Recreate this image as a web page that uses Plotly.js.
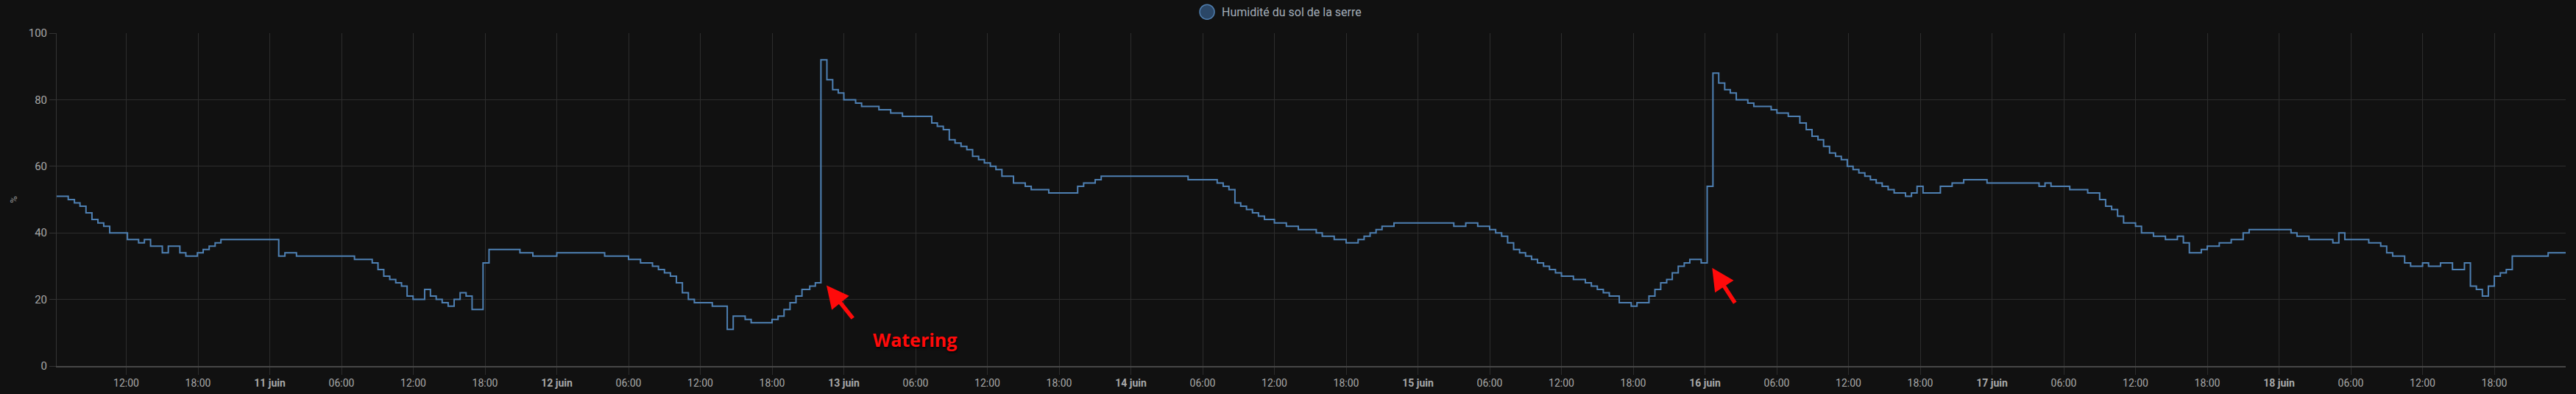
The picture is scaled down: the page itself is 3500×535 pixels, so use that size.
<!DOCTYPE html>
<html>
<head>
<meta charset="utf-8">
<script src="https://cdn.plot.ly/plotly-3.0.1.min.js"></script>
<style>
html,body{margin:0;padding:0;background:#111111;}
#chart{width:3500px;height:535px;}
</style>
</head>
<body>
<div id="chart"></div>
<script>
// ---- Data: change points of the stepped soil-humidity series ----
const seriesName = "Humidité du sol de la serre";
const times = [
"2023-06-10 06:00","2023-06-10 07:09","2023-06-10 07:40","2023-06-10 08:08","2023-06-10 08:38","2023-06-10 09:08",
"2023-06-10 09:38","2023-06-10 10:07","2023-06-10 10:37","2023-06-10 12:06","2023-06-10 13:02","2023-06-10 13:31",
"2023-06-10 14:02","2023-06-10 15:01","2023-06-10 15:31","2023-06-10 16:29","2023-06-10 16:59","2023-06-10 17:57",
"2023-06-10 18:26","2023-06-10 18:56","2023-06-10 19:26","2023-06-10 19:55",
"2023-06-11 00:45","2023-06-11 01:16","2023-06-11 02:14","2023-06-11 07:05","2023-06-11 08:34","2023-06-11 09:03",
"2023-06-11 09:32","2023-06-11 10:02","2023-06-11 10:32","2023-06-11 11:01","2023-06-11 11:29","2023-06-11 11:59",
"2023-06-11 12:57","2023-06-11 13:26","2023-06-11 13:55","2023-06-11 14:25","2023-06-11 14:55","2023-06-11 15:25",
"2023-06-11 15:55","2023-06-11 16:25","2023-06-11 16:55","2023-06-11 17:50","2023-06-11 18:20",
"2023-06-11 20:55","2023-06-11 22:00",
"2023-06-12 00:00","2023-06-12 04:00","2023-06-12 06:00","2023-06-12 07:00","2023-06-12 08:00","2023-06-12 08:30",
"2023-06-12 09:00","2023-06-12 09:30","2023-06-12 10:00","2023-06-12 10:30","2023-06-12 11:00","2023-06-12 11:30",
"2023-06-12 13:00","2023-06-12 14:15","2023-06-12 14:45","2023-06-12 15:45","2023-06-12 16:15","2023-06-12 18:00",
"2023-06-12 18:30","2023-06-12 19:00","2023-06-12 19:30","2023-06-12 20:00","2023-06-12 20:30","2023-06-12 21:09",
"2023-06-12 21:37","2023-06-12 22:05","2023-06-12 22:35","2023-06-12 23:04","2023-06-12 23:32",
"2023-06-13 00:00","2023-06-13 00:59","2023-06-13 01:29","2023-06-13 02:56","2023-06-13 03:55","2023-06-13 04:54",
"2023-06-13 07:21","2023-06-13 07:49","2023-06-13 08:19","2023-06-13 08:49","2023-06-13 09:18","2023-06-13 09:48",
"2023-06-13 10:17","2023-06-13 10:46","2023-06-13 11:16","2023-06-13 11:45","2023-06-13 12:15","2023-06-13 12:43",
"2023-06-13 13:13","2023-06-13 14:11","2023-06-13 15:10","2023-06-13 15:40","2023-06-13 17:08","2023-06-13 19:33",
"2023-06-13 20:03","2023-06-13 21:01","2023-06-13 21:31",
"2023-06-14 04:47","2023-06-14 07:13","2023-06-14 07:43","2023-06-14 08:12","2023-06-14 08:42","2023-06-14 09:11",
"2023-06-14 09:40","2023-06-14 10:10","2023-06-14 10:40","2023-06-14 11:10","2023-06-14 12:00","2023-06-14 13:00",
"2023-06-14 14:00","2023-06-14 15:30","2023-06-14 16:00","2023-06-14 17:00","2023-06-14 18:00","2023-06-14 19:00",
"2023-06-14 19:30","2023-06-14 20:00","2023-06-14 20:30","2023-06-14 21:00","2023-06-14 22:00",
"2023-06-15 03:00","2023-06-15 04:00","2023-06-15 05:00","2023-06-15 06:00","2023-06-15 06:30","2023-06-15 07:00",
"2023-06-15 07:30","2023-06-15 08:00","2023-06-15 08:30","2023-06-15 09:00","2023-06-15 09:30","2023-06-15 10:00",
"2023-06-15 10:30","2023-06-15 11:00","2023-06-15 11:30","2023-06-15 12:00","2023-06-15 13:00","2023-06-15 14:00",
"2023-06-15 14:30","2023-06-15 15:00","2023-06-15 15:30","2023-06-15 16:00","2023-06-15 16:50","2023-06-15 17:50",
"2023-06-15 18:19","2023-06-15 19:19","2023-06-15 19:49","2023-06-15 20:18","2023-06-15 20:48","2023-06-15 21:16",
"2023-06-15 21:46","2023-06-15 22:16","2023-06-15 22:44","2023-06-15 23:41",
"2023-06-16 00:11","2023-06-16 00:40","2023-06-16 01:09","2023-06-16 01:39","2023-06-16 02:07","2023-06-16 02:37",
"2023-06-16 03:35","2023-06-16 04:05","2023-06-16 05:32","2023-06-16 06:01","2023-06-16 06:58","2023-06-16 07:56",
"2023-06-16 08:28","2023-06-16 08:57","2023-06-16 09:27","2023-06-16 09:55","2023-06-16 10:25","2023-06-16 10:55",
"2023-06-16 11:24","2023-06-16 11:54","2023-06-16 12:23","2023-06-16 12:52","2023-06-16 13:22","2023-06-16 13:50",
"2023-06-16 14:19","2023-06-16 14:49","2023-06-16 15:19","2023-06-16 15:49","2023-06-16 16:46","2023-06-16 17:16",
"2023-06-16 17:44","2023-06-16 18:14","2023-06-16 19:41","2023-06-16 20:40","2023-06-16 21:38","2023-06-16 23:35",
"2023-06-17 03:56","2023-06-17 04:26","2023-06-17 04:56","2023-06-17 06:30","2023-06-17 08:00","2023-06-17 09:00",
"2023-06-17 09:30","2023-06-17 10:00","2023-06-17 10:30","2023-06-17 11:00","2023-06-17 12:00","2023-06-17 12:30",
"2023-06-17 13:30","2023-06-17 14:30","2023-06-17 15:30","2023-06-17 16:00","2023-06-17 16:30","2023-06-17 17:30",
"2023-06-17 18:00","2023-06-17 19:00","2023-06-17 20:00","2023-06-17 21:00","2023-06-17 21:30",
"2023-06-18 01:00","2023-06-18 01:30","2023-06-18 02:30","2023-06-18 04:30","2023-06-18 05:00","2023-06-18 05:30",
"2023-06-18 07:30","2023-06-18 08:30","2023-06-18 09:00","2023-06-18 09:30","2023-06-18 10:30","2023-06-18 11:00",
"2023-06-18 12:00","2023-06-18 12:30","2023-06-18 13:30","2023-06-18 14:30","2023-06-18 15:30","2023-06-18 16:00",
"2023-06-18 16:30","2023-06-18 17:00","2023-06-18 17:30","2023-06-18 18:00","2023-06-18 18:30","2023-06-18 19:00",
"2023-06-18 19:30","2023-06-18 22:30","2023-06-19 00:00"
];
const humidity = [
51,50,49,48,46,44,
43,42,40,38,37,38,
36,34,36,34,33,34,
35,36,37,38,
33,34,33,32,31,29,
27,26,25,24,21,20,
23,21,20,19,18,20,
22,21,17,31,35,
34,33,
34,33,32,31,30,29,
28,27,25,22,20,19,
18,11,15,14,13,14,
15,17,19,21,23,24,
25,92,86,83,82,
80,79,78,77,76,75,
73,72,71,68,67,66,
65,63,62,61,60,59,
57,55,54,53,52,54,
55,56,57,
56,55,54,53,49,48,
47,46,45,44,43,42,
41,40,39,38,37,38,
39,40,41,42,43,
42,43,42,41,40,39,
37,35,34,33,32,31,
30,29,28,27,26,25,
24,23,22,21,19,18,
19,21,23,25,26,28,
30,31,32,31,
54,88,85,83,82,80,
79,78,77,76,75,73,
71,69,68,66,64,63,
62,60,59,58,57,56,
55,54,53,52,51,52,
54,52,54,55,56,55,
54,55,54,53,52,50,
48,47,45,43,42,40,
39,38,39,37,34,35,
36,37,38,40,41,
40,39,38,37,40,38,
37,36,34,33,31,30,
31,30,31,29,31,24,
23,21,24,27,28,29,
33,34,34
];

// ---- Axis ticks ----
const xRange = ["2023-06-10 06:11","2023-06-18 23:58"];
const tickVals = [
"2023-06-10 12:00","2023-06-10 18:00","2023-06-11 00:00","2023-06-11 06:00","2023-06-11 12:00","2023-06-11 18:00",
"2023-06-12 00:00","2023-06-12 06:00","2023-06-12 12:00","2023-06-12 18:00","2023-06-13 00:00","2023-06-13 06:00",
"2023-06-13 12:00","2023-06-13 18:00","2023-06-14 00:00","2023-06-14 06:00","2023-06-14 12:00","2023-06-14 18:00",
"2023-06-15 00:00","2023-06-15 06:00","2023-06-15 12:00","2023-06-15 18:00","2023-06-16 00:00","2023-06-16 06:00",
"2023-06-16 12:00","2023-06-16 18:00","2023-06-17 00:00","2023-06-17 06:00","2023-06-17 12:00","2023-06-17 18:00",
"2023-06-18 00:00","2023-06-18 06:00","2023-06-18 12:00","2023-06-18 18:00"
];
const tickText = [
"12:00","18:00","<b>11 juin</b>","06:00","12:00","18:00",
"<b>12 juin</b>","06:00","12:00","18:00","<b>13 juin</b>","06:00",
"12:00","18:00","<b>14 juin</b>","06:00","12:00","18:00",
"<b>15 juin</b>","06:00","12:00","18:00","<b>16 juin</b>","06:00",
"12:00","18:00","<b>17 juin</b>","06:00","12:00","18:00",
"<b>18 juin</b>","06:00","12:00","18:00"
];
const yTicks = [0,20,40,60,80,100];

// ---- Annotation anchors (arrow tips, label) ----
const wateringTips = [["2023-06-12 22:33", 24.2], ["2023-06-16 00:36", 29.5]];
const wateringLabel = ["2023-06-13 05:57", 8.0];

const lineColor = "#4e80b3";
const gridColor = "#2d2d2d";

const trace = {
  x: times, y: humidity, type: "scatter", mode: "lines",
  line: {shape: "hv", color: lineColor, width: 2},
  name: seriesName, showlegend: false, hoverinfo: "skip"
};

const layout = {
  width: 3500, height: 535,
  paper_bgcolor: "#111111", plot_bgcolor: "#111111",
  margin: {l: 77, r: 14, t: 45, b: 38, pad: 0},
  font: {family: "Roboto, 'Open Sans', sans-serif", color: "#a8a8a8", size: 14},
  showlegend: false,
  xaxis: {
    type: "date", range: xRange,
    tickmode: "array", tickvals: tickVals, ticktext: tickText,
    showgrid: true, gridcolor: gridColor, gridwidth: 1,
    showline: true, linecolor: "#474747", linewidth: 1.5,
    ticks: "outside", ticklen: 10, tickcolor: gridColor, tickwidth: 1,
    tickfont: {family: "Roboto", size: 14, color: "#a8a8a8"},
    zeroline: false, fixedrange: true
  },
  yaxis: {
    range: [0, 100], tickmode: "array", tickvals: yTicks,
    showgrid: true, gridcolor: gridColor, gridwidth: 1,
    showline: true, linecolor: "#333333", linewidth: 1,
    ticks: "outside", ticklen: 9, tickcolor: "#333333", tickwidth: 1,
    tickfont: {family: "Roboto", size: 15, color: "#a8a8a8"},
    title: {text: "%", font: {family: "Roboto", size: 13, color: "#999999"}, standoff: 12},
    zeroline: false, fixedrange: true, automargin: false
  },
  shapes: [{
    type: "circle", xref: "paper", yref: "paper",
    xsizemode: "pixel", ysizemode: "pixel",
    xanchor: 0.4585, yanchor: 1.0637,
    x0: -10, x1: 10, y0: -10, y1: 10,
    fillcolor: "#2b4767", line: {color: "#4f7dad", width: 1.5}
  }],
  annotations: [
    {xref: "paper", yref: "paper", x: 0.4637, y: 1.0637, xanchor: "left", yanchor: "middle",
     text: seriesName, showarrow: false,
     font: {family: "Roboto", size: 16, color: "#a3adb8"}},
    {x: wateringTips[0][0], y: wateringTips[0][1], xref: "x", yref: "y",
     showarrow: true, arrowhead: 2, arrowsize: 1.1, arrowwidth: 5.5, arrowcolor: "#ff0a0a",
     ax: 37, ay: 46, text: ""},
    {x: wateringTips[1][0], y: wateringTips[1][1], xref: "x", yref: "y",
     showarrow: true, arrowhead: 2, arrowsize: 1.1, arrowwidth: 5.5, arrowcolor: "#ff0a0a",
     ax: 32, ay: 49, text: ""},
    {x: wateringLabel[0], y: wateringLabel[1], xref: "x", yref: "y",
     showarrow: false, text: "<b>Watering</b>", xanchor: "center", yanchor: "middle",
     font: {family: "Open Sans", size: 25, color: "#ff0a0a", shadow: "1px 2px 3px rgba(0,0,0,0.8)"}}
  ]
};

Plotly.newPlot("chart", [trace], layout, {staticPlot: true, displayModeBar: false});
</script>
</body>
</html>
